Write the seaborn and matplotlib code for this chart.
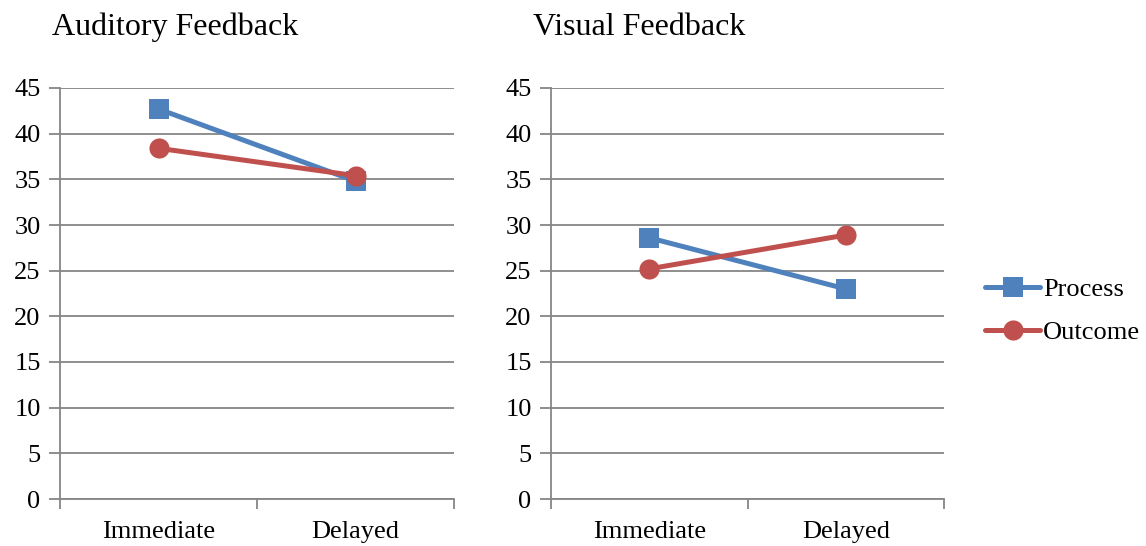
import pandas as pd
import matplotlib.pyplot as plt
import seaborn as sns
from matplotlib.ticker import FixedLocator

timings = ["Immediate", "Delayed"]
groups = ["Process", "Outcome"]
auditory_process = [42.7, 34.8]
auditory_outcome = [38.4, 35.4]
visual_process = [28.6, 23.0]
visual_outcome = [25.2, 28.9]

panels = [
    ("Auditory Feedback", auditory_process, auditory_outcome),
    ("Visual Feedback", visual_process, visual_outcome),
]

sns.set_style("white")
plt.rcParams["font.family"] = ["Liberation Serif", "DejaVu Serif"]
plt.rcParams["text.color"] = "black"
plt.rcParams["xtick.color"] = "black"
plt.rcParams["ytick.color"] = "black"

grey = "#868686"
palette = {"Process": "#4F81BD", "Outcome": "#C0504D"}
markers = {"Process": "s", "Outcome": "o"}

fig = plt.figure(figsize=(11.46, 5.46), dpi=100)
boxes = [
    [60 / 1146, 47 / 546, 394 / 1146, 411 / 546],
    [551 / 1146, 47 / 546, 393 / 1146, 411 / 546],
]
title_x = [-0.02, -0.046]

for box, tx, (title, proc, outc) in zip(boxes, title_x, panels):
    ax = fig.add_axes(box)
    rows = []
    for i, t in enumerate(timings):
        rows.append({"pos": i, "group": "Process", "score": proc[i]})
        rows.append({"pos": i, "group": "Outcome", "score": outc[i]})
    df = pd.DataFrame(rows)
    sns.lineplot(
        data=df,
        x="pos",
        y="score",
        hue="group",
        style="group",
        hue_order=groups,
        style_order=groups,
        palette=palette,
        markers=markers,
        dashes=False,
        linewidth=3.6,
        markersize=14.5,
        markeredgewidth=0,
        ax=ax,
        legend=False,
        zorder=3,
    )
    ax.set_xlim(-0.5, 1.5)
    ax.set_ylim(0, 45)
    ax.set_yticks(range(0, 46, 5))
    ax.set_xticks([0, 1])
    ax.set_xticklabels(timings)
    ax.xaxis.set_minor_locator(FixedLocator([-0.5, 0.5, 1.5]))
    ax.tick_params(axis="x", which="major", bottom=True, length=0, pad=16, labelsize=19)
    ax.tick_params(axis="x", which="minor", bottom=True, length=7, width=1.3,
                   color=grey, direction="out")
    ax.tick_params(axis="y", left=True, length=8, width=1.3, color=grey,
                   direction="out", pad=6, labelsize=19)
    ax.set_xlabel("")
    ax.set_ylabel("")
    ax.grid(axis="y", color=grey, linewidth=1.3)
    ax.set_axisbelow(True)
    for s in ["top", "right"]:
        ax.spines[s].set_visible(False)
    for s in ["left", "bottom"]:
        ax.spines[s].set_color(grey)
        ax.spines[s].set_linewidth(1.3)
    ax.set_title(title, loc="left", fontsize=23, x=tx, y=1.0, pad=38)

handles = [
    plt.Line2D([], [], color=palette[g], marker=markers[g], linewidth=3.6,
               markersize=14.5, markeredgewidth=0)
    for g in groups
]
fig.legend(
    handles,
    groups,
    loc="center left",
    bbox_to_anchor=(985 / 1146, 1 - 311 / 546),
    frameon=False,
    fontsize=19,
    handlelength=2.1,
    handletextpad=0.1,
    labelspacing=0.75,
    borderpad=0,
    borderaxespad=0,
)

fig.savefig("out.png", dpi=100)
